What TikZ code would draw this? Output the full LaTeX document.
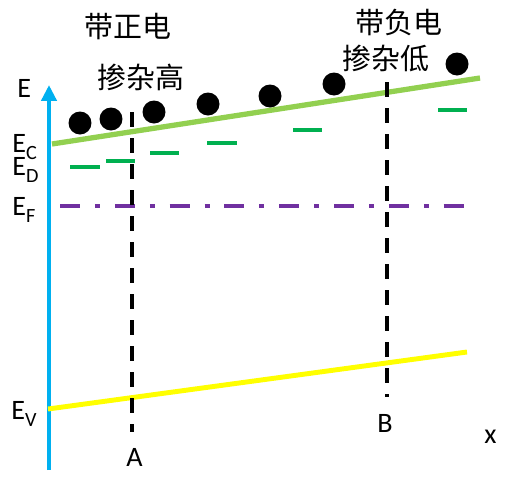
\documentclass[tikz,border=0pt]{standalone}
\usepackage{fontspec}
\setmainfont{Carlito}
\newfontfamily\cjk{Noto Sans CJK SC}
\usetikzlibrary{arrows.meta}
\definecolor{axisblue}{RGB}{0,176,240}
\definecolor{bandgreen}{RGB}{146,208,80}
\definecolor{donorgreen}{RGB}{0,176,80}
\definecolor{fermipurple}{RGB}{112,48,160}
\definecolor{bandyellow}{RGB}{255,255,0}
\newcommand{\lowsub}[1]{\raisebox{-4.5pt}{\fontsize{11.5}{13}\selectfont #1}}

\begin{document}
\begin{tikzpicture}[x=0.02cm, y=-0.02cm,
		lbl/.style={inner sep=0pt, anchor=base west, font=\fontsize{16}{19}\selectfont},
		cjklbl/.style={inner sep=0pt, font=\cjk\fontsize{16.5}{20}\selectfont},
		eaxis/.style={draw=axisblue, line width=2.8pt, -{Triangle[length=9pt,width=8.5pt]}},
		cband/.style={draw=bandgreen, line width=3pt},
		vband/.style={draw=bandyellow, line width=2.8pt},
		donor/.style={draw=donorgreen, line width=2.3pt},
		fermi/.style={draw=fermipurple, line width=2.3pt, dash pattern=on 11.4pt off 8.5pt on 2.8pt off 8.5pt},
		cut/.style={draw=black, line width=2.1pt, dash pattern=on 8.5pt off 6.3pt},
		]
	\useasboundingbox (0,0) rectangle (530,484);

	% Texts
	\node[cjklbl] (posq) at (128,27) {带正电};
	\node[cjklbl] (highdop) at (141,77) {掺杂高};
	\node[cjklbl] (negq) at (399,22) {带负电};
	\node[cjklbl] (lowdop) at (386,58) {掺杂低};

	\node[lbl] (elab) at (17,97) {E};
	\node[lbl] (eclab) at (12,152) {E\lowsub{C}};
	\node[lbl] (edlab) at (12,175) {E\lowsub{D}};
	\node[lbl] (eflab) at (12,215) {E\lowsub{F}};
	\node[lbl] (evlab) at (11,419) {E\lowsub{V}};
	\node[lbl] (alab) at (126,466) {A};
	\node[lbl] (blab) at (377,432) {B};
	\node[lbl] (xlab) at (484,443) {x};

	% Axis
	\coordinate (origin) at (49,470);
	\coordinate (etop) at (49,85);
	\draw[eaxis] (origin) -- (etop);

	% Bands
	\draw[vband] (48,409) -- (467,352);
	\draw[cband] (52,144) -- (480,78);
	\draw[fermi] (60,206) -- (465,206);
	\foreach \xa/\xb/\y in {70/100/167, 106/135/161, 150/179/153, 207/237/143, 293/322/130, 438/467/110}
		\draw[donor] (\xa,\y) -- (\xb,\y);

	% Cuts
	\coordinate (atop) at (132,112);
	\coordinate (abot) at (132,432);
	\coordinate (btop) at (387,82);
	\coordinate (bbot) at (387,397);
	\draw[cut] (atop) -- (abot);
	\draw[cut] (btop) -- (bbot);

	% Electrons
	\foreach \x/\y in {80/123, 111/119, 154/112, 208/104, 270/96, 334/84, 457/64}
		\fill (\x,\y) circle[radius=0.23cm];
\end{tikzpicture}
\end{document}
